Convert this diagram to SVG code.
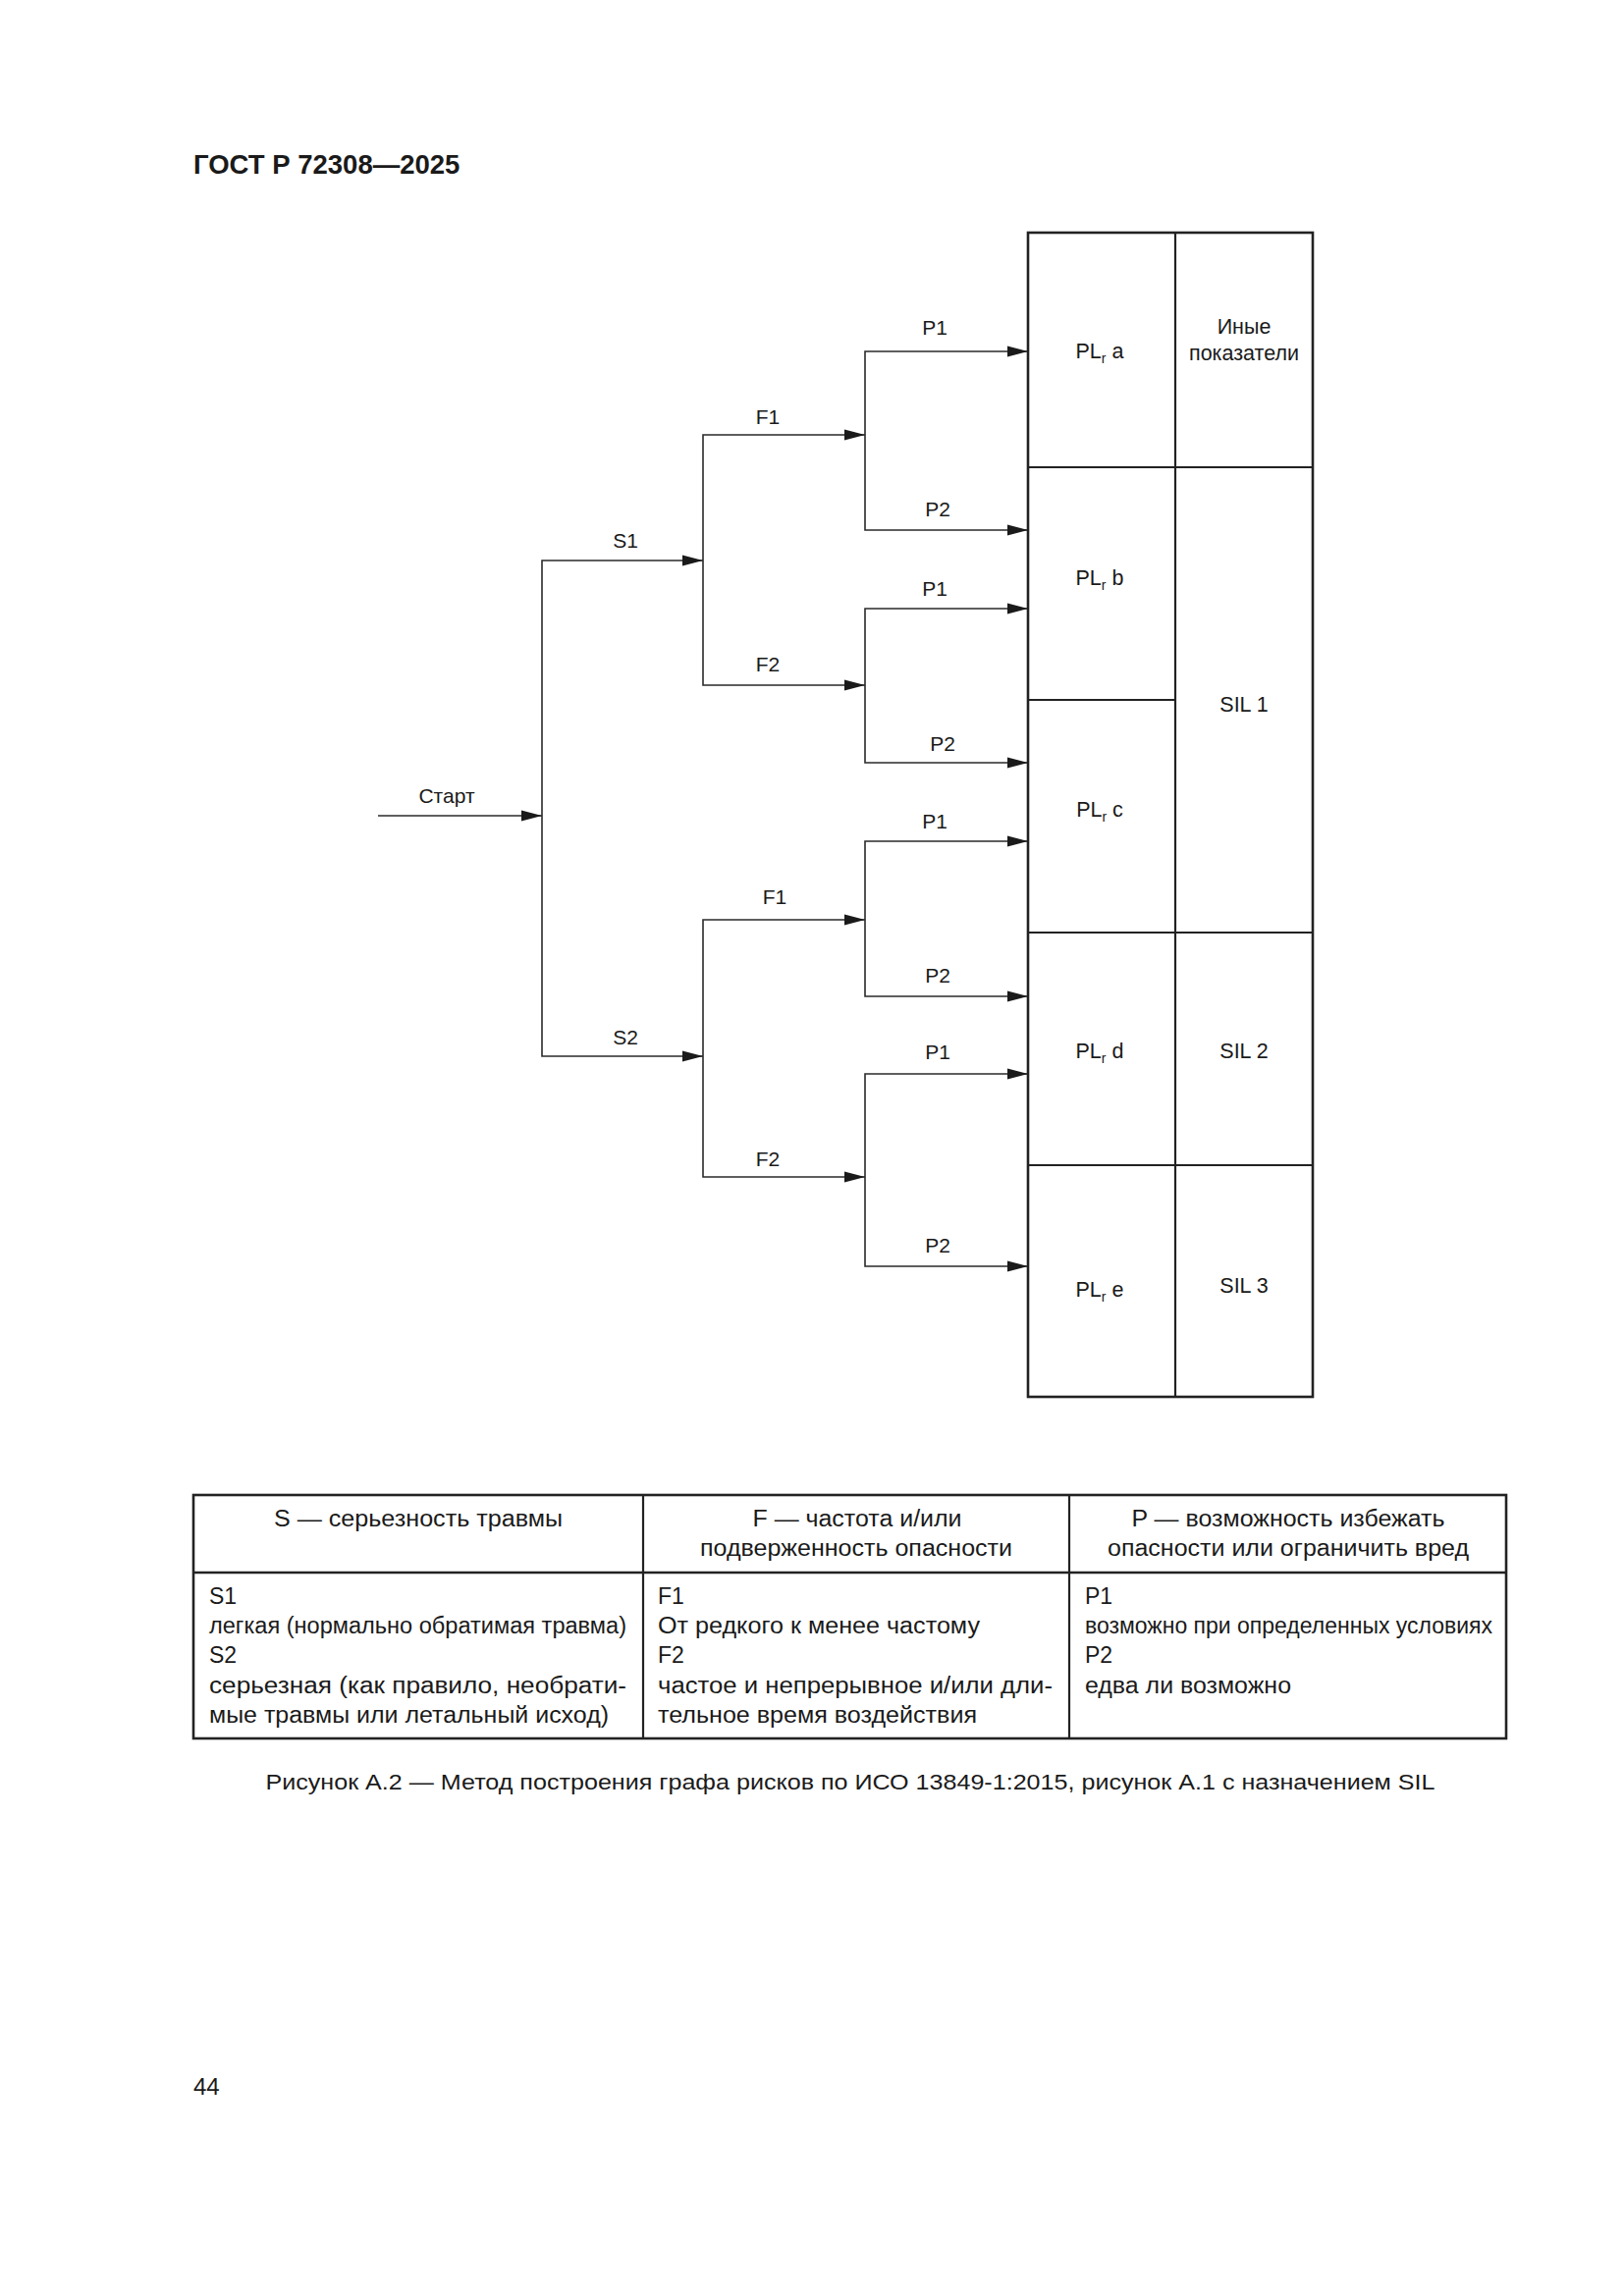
<svg xmlns="http://www.w3.org/2000/svg" width="1654" height="2339" viewBox="0 0 1654 2339">
<style>
text{font-family:"Liberation Sans",Arial,sans-serif;fill:#1a1a1a}
.hdr{font-size:27.5px;font-weight:bold}
.lbl{font-size:21px;text-anchor:middle}
.cell{font-size:21.5px;text-anchor:middle}
.tb{font-size:23px}
.tbc{font-size:23px;text-anchor:middle}
.cap{font-size:22px;text-anchor:middle}
.con{fill:none;stroke:#2a2a2a;stroke-width:1.6}
.grid{stroke:#222;stroke-width:2.2;fill:none}
.outer{stroke:#222;stroke-width:2.6;fill:none}
</style>
<defs>
<marker id="arr" markerUnits="userSpaceOnUse" markerWidth="22" markerHeight="14" viewBox="0 0 22 14" refX="21" refY="7" orient="auto">
<path d="M0 1.5 L21 7 L0 12.5 Z" fill="#1a1a1a"/>
</marker>
</defs>
<rect width="1654" height="2339" fill="#fff"/>
<text class="hdr" x="197" y="177">ГОСТ Р 72308—2025</text>

<g id="connectors">
<path class="con" d="M385 831 H552" marker-end="url(#arr)"/>
<path class="con" d="M552 831 V571 H716" marker-end="url(#arr)"/>
<path class="con" d="M552 831 V1076 H716" marker-end="url(#arr)"/>
<path class="con" d="M716 571 V443 H881" marker-end="url(#arr)"/>
<path class="con" d="M716 571 V698 H881" marker-end="url(#arr)"/>
<path class="con" d="M716 1076 V937 H881" marker-end="url(#arr)"/>
<path class="con" d="M716 1076 V1199 H881" marker-end="url(#arr)"/>
<path class="con" d="M881 443 V358 H1047" marker-end="url(#arr)"/>
<path class="con" d="M881 443 V540 H1047" marker-end="url(#arr)"/>
<path class="con" d="M881 698 V620 H1047" marker-end="url(#arr)"/>
<path class="con" d="M881 698 V777 H1047" marker-end="url(#arr)"/>
<path class="con" d="M881 937 V857 H1047" marker-end="url(#arr)"/>
<path class="con" d="M881 937 V1015 H1047" marker-end="url(#arr)"/>
<path class="con" d="M881 1199 V1094 H1047" marker-end="url(#arr)"/>
<path class="con" d="M881 1199 V1290 H1047" marker-end="url(#arr)"/>
<text class="lbl" x="455" y="818">Старт</text>
<text class="lbl" x="637" y="558">S1</text>
<text class="lbl" x="637" y="1064">S2</text>
<text class="lbl" x="782" y="432">F1</text>
<text class="lbl" x="782" y="684">F2</text>
<text class="lbl" x="789" y="921">F1</text>
<text class="lbl" x="782" y="1188">F2</text>
<text class="lbl" x="952" y="341">P1</text>
<text class="lbl" x="955" y="526">P2</text>
<text class="lbl" x="952" y="607">P1</text>
<text class="lbl" x="960" y="765">P2</text>
<text class="lbl" x="952" y="844">P1</text>
<text class="lbl" x="955" y="1001">P2</text>
<text class="lbl" x="955" y="1079">P1</text>
<text class="lbl" x="955" y="1276">P2</text>
</g>

<g id="result-table">
<rect class="outer" x="1047" y="237" width="290" height="1186"/>
<line class="grid" x1="1197" y1="237" x2="1197" y2="1423"/>
<line class="grid" x1="1047" y1="476" x2="1337" y2="476"/>
<line class="grid" x1="1047" y1="713" x2="1197" y2="713"/>
<line class="grid" x1="1047" y1="950" x2="1337" y2="950"/>
<line class="grid" x1="1047" y1="1187" x2="1337" y2="1187"/>
</g>
<g id="pl-a"><text class="cell" x="1120" y="365">PL<tspan font-size="14" dy="5">r</tspan><tspan dy="-5"> a</tspan></text></g>
<g id="pl-b"><text class="cell" x="1120" y="596">PL<tspan font-size="14" dy="5">r</tspan><tspan dy="-5"> b</tspan></text></g>
<g id="pl-c"><text class="cell" x="1120" y="832">PL<tspan font-size="14" dy="5">r</tspan><tspan dy="-5"> c</tspan></text></g>
<g id="pl-d"><text class="cell" x="1120" y="1078">PL<tspan font-size="14" dy="5">r</tspan><tspan dy="-5"> d</tspan></text></g>
<g id="pl-e"><text class="cell" x="1120" y="1321">PL<tspan font-size="14" dy="5">r</tspan><tspan dy="-5"> e</tspan></text></g>
<g id="other"><text class="cell" x="1267" y="340">Иные</text><text class="cell" x="1267" y="367">показатели</text></g>
<g id="sil1"><text class="cell" x="1267" y="725">SIL 1</text></g>
<g id="sil2"><text class="cell" x="1267" y="1078">SIL 2</text></g>
<g id="sil3"><text class="cell" x="1267" y="1317">SIL 3</text></g>

<g id="legend">
<rect class="outer" x="197" y="1523" width="1337" height="248"/>
<line class="outer" x1="197" y1="1602" x2="1534" y2="1602"/>
<line class="grid" x1="655" y1="1523" x2="655" y2="1771"/>
<line class="grid" x1="1089" y1="1523" x2="1089" y2="1771"/>
<text class="tbc" x="426" y="1555" textLength="294" lengthAdjust="spacingAndGlyphs">S — серьезность травмы</text>
<text class="tbc" x="873" y="1555" textLength="213" lengthAdjust="spacingAndGlyphs">F — частота и/или</text>
<text class="tbc" x="872" y="1585" textLength="318" lengthAdjust="spacingAndGlyphs">подверженность опасности</text>
<text class="tbc" x="1312" y="1555" textLength="319" lengthAdjust="spacingAndGlyphs">P — возможность избежать</text>
<text class="tbc" x="1312" y="1585" textLength="368" lengthAdjust="spacingAndGlyphs">опасности или ограничить вред</text>
<text class="tb" x="213" y="1634">S1</text>
<text class="tb" x="213" y="1664" textLength="425" lengthAdjust="spacingAndGlyphs">легкая (нормально обратимая травма)</text>
<text class="tb" x="213" y="1694">S2</text>
<text class="tb" x="213" y="1725" textLength="425" lengthAdjust="spacingAndGlyphs">серьезная (как правило, необрати-</text>
<text class="tb" x="213" y="1755" textLength="407" lengthAdjust="spacingAndGlyphs">мые травмы или летальный исход)</text>
<text class="tb" x="670" y="1634">F1</text>
<text class="tb" x="670" y="1664" textLength="328" lengthAdjust="spacingAndGlyphs">От редкого к менее частому</text>
<text class="tb" x="670" y="1694">F2</text>
<text class="tb" x="670" y="1725" textLength="402" lengthAdjust="spacingAndGlyphs">частое и непрерывное и/или дли-</text>
<text class="tb" x="670" y="1755" textLength="325" lengthAdjust="spacingAndGlyphs">тельное время воздействия</text>
<text class="tb" x="1105" y="1634">P1</text>
<text class="tb" x="1105" y="1664" textLength="415" lengthAdjust="spacingAndGlyphs">возможно при определенных условиях</text>
<text class="tb" x="1105" y="1694">P2</text>
<text class="tb" x="1105" y="1725" textLength="210" lengthAdjust="spacingAndGlyphs">едва ли возможно</text>
</g>
<text class="cap" x="866" y="1823" textLength="1191" lengthAdjust="spacingAndGlyphs">Рисунок А.2 — Метод построения графа рисков по ИСО 13849-1:2015, рисунок А.1  с назначением SIL</text>
<text x="197" y="2134" font-size="24">44</text>
</svg>
